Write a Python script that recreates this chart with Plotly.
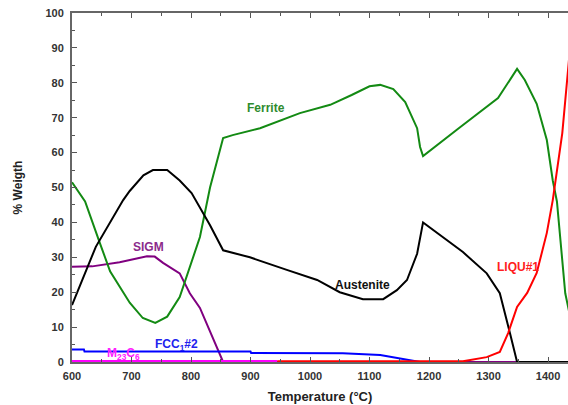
import plotly.graph_objects as go

# Ferrite
fer_t = [600, 622, 647, 664, 697, 719, 740, 760, 781, 798, 815, 832, 845, 854, 870, 916, 983, 1034, 1070, 1100, 1118, 1140, 1160, 1180, 1185, 1190, 1250, 1316, 1348, 1361, 1381, 1398, 1408, 1415, 1429, 1436]
fer_w = [51.5, 46, 34, 26, 17, 12.6, 11.2, 13, 18.6, 27, 35.8, 50, 58.7, 64.2, 65, 67, 71.3, 73.7, 76.5, 79, 79.4, 78.2, 74.5, 67, 61.6, 59, 67, 75.6, 84, 80.8, 74, 63.6, 52, 46, 19.7, 14]

# Austenite
aus_t = [600, 640, 686, 697, 720, 736, 760, 781, 801, 815, 832, 854, 899, 961, 1012, 1050, 1089, 1123, 1146, 1163, 1180, 1190, 1257, 1297, 1319, 1336, 1348, 1436]
aus_w = [16.3, 33, 46.4, 49, 53.5, 55, 55, 52, 48.4, 44.4, 39.2, 32, 30, 26.4, 23.5, 20, 18, 18, 20.6, 23.5, 31, 40, 31.5, 25.4, 19.7, 8.3, 0, 0]

# SIGM
sig_t = [600, 620, 634, 680, 709, 726, 739, 753, 781, 798, 815, 854, 1436]
sig_w = [27.3, 27.3, 27.4, 28.6, 29.8, 30.3, 30.2, 28.4, 25.4, 19.7, 15.5, 0, 0]

# FCC1#2
fcc_t = [600, 620, 621, 900, 901, 1055, 1118, 1151, 1185, 1200]
fcc_w = [3.6, 3.6, 3.0, 3.0, 2.6, 2.5, 2.0, 1.1, 0, 0]

# M23C6
m23_t = [600, 945]
m23_w = [0.3, 0.3]

# LIQU#1
liq_t = [945, 1257, 1297, 1319, 1333, 1348, 1365, 1381, 1398, 1408, 1424, 1436]
liq_w = [0.2, 0.2, 1.4, 2.9, 8.3, 15.8, 19.8, 25.5, 37, 46.4, 65.6, 88]

series = [
    ("SIGM", sig_t, sig_w, "#800080"),
    ("Ferrite", fer_t, fer_w, "#138a13"),
    ("Austenite", aus_t, aus_w, "#000000"),
    ("FCC1#2", fcc_t, fcc_w, "#0000ff"),
    ("M23C6", m23_t, m23_w, "#ff00ff"),
    ("LIQU#1", liq_t, liq_w, "#ff0000"),
]

fig = go.Figure()
for name, t, w, c in series:
    fig.add_trace(go.Scatter(x=t, y=w, mode="lines", name=name,
                             line=dict(color=c, width=2), showlegend=False))

labels = [
    ("Ferrite", 926, 72.8, "#2e8b2e"),
    ("Austenite", 1089, 22.0, "#111111"),
    ("SIGM", 728, 33.0, "#8b2a8b"),
    ("LIQU#1", 1350, 27.2, "#ff2020"),
    ("FCC<sub>1</sub>#2", 776, 5.0, "#2222ee"),
    ("M<sub>23</sub>C<sub>6</sub>", 687, 2.2, "#ff22ff"),
]
for txt, x, y, c in labels:
    fig.add_annotation(x=x, y=y, text="<b>" + txt + "</b>", showarrow=False,
                       font=dict(family="Liberation Sans, Arial", size=12, color=c),
                       xanchor="center", yanchor="middle")

axis_font = dict(family="Liberation Sans, Arial", size=11, color="#333333")
xt = [600, 700, 800, 900, 1000, 1100, 1200, 1300, 1400]
fig.update_xaxes(range=[600, 1433.6], tickmode="array",
                 tickvals=xt, ticktext=["<b>%d</b>" % v for v in xt],
                 ticks="inside", ticklen=5, tickcolor="#555555", tickwidth=1,
                 minor=dict(tickvals=list(range(650, 1450, 100)), ticks="inside", ticklen=3, tickcolor="#555555"),
                 showline=True, linecolor="#666666", linewidth=2, mirror="ticks",
                 showgrid=False, zeroline=False, tickfont=axis_font, ticklabelstandoff=3,
                 ticklabeloverflow="allow", automargin=False,
                 title=dict(text="<b>Temperature (°C)</b>", font=dict(family="Liberation Sans, Arial", size=13, color="#222222"), standoff=11))
yt = list(range(0, 101, 10))
fig.update_yaxes(range=[0, 100], tickmode="array",
                 tickvals=yt, ticktext=["<b>%d</b>" % v for v in yt],
                 ticks="inside", ticklen=5, tickcolor="#555555", tickwidth=1,
                 minor=dict(tickvals=list(range(5, 100, 10)), ticks="inside", ticklen=3, tickcolor="#555555"),
                 showline=True, linecolor="#666666", linewidth=2,
                 showgrid=False, zeroline=False, tickfont=axis_font, ticklabelstandoff=4,
                 ticklabeloverflow="allow", automargin=False,
                 title=dict(text="<b>% Weigth</b>", font=dict(family="Liberation Sans, Arial", size=12, color="#222222"), standoff=20))

fig.update_layout(width=568, height=405, margin=dict(l=72, r=0, t=13, b=43),
                  plot_bgcolor="white", paper_bgcolor="white")
fig.write_html("out.html", config={"displayModeBar": False},
               post_script="document.body.style.margin='0';document.body.style.overflow='hidden';")
